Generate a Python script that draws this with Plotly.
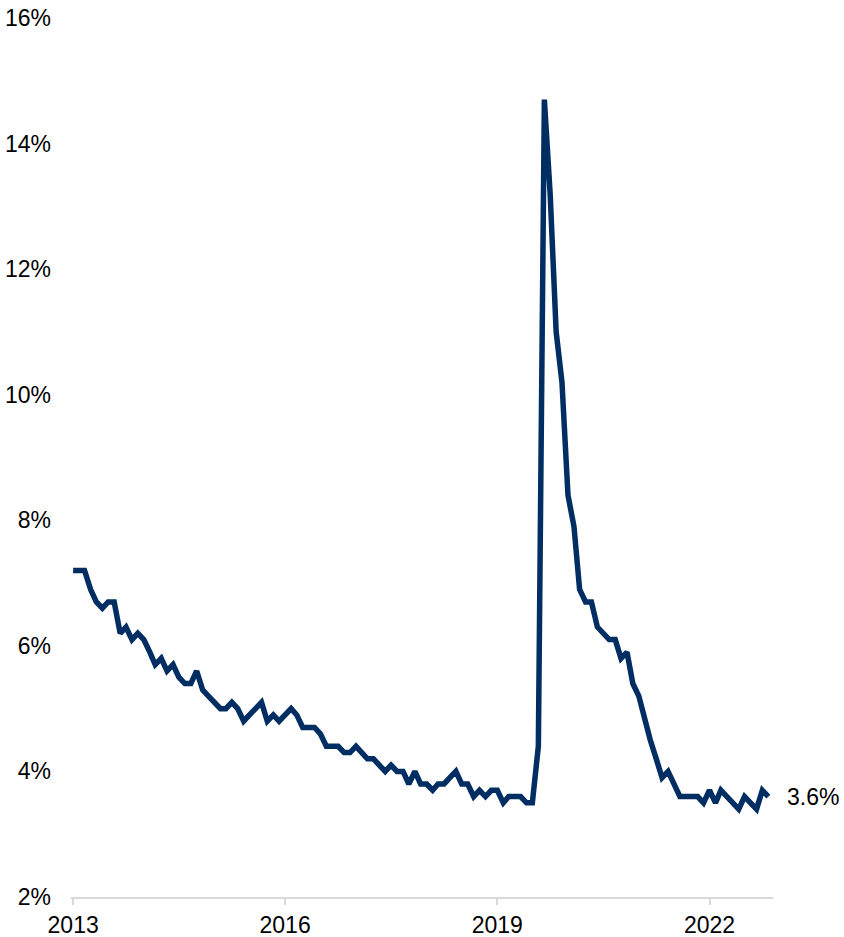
import pandas as pd
import plotly.graph_objects as go

# Monthly unemployment rate (%) as drawn
rate = [
    7.2, 7.2, 7.2, 6.9, 6.7,
    6.6, 6.7, 6.7, 6.2, 6.3, 6.1, 6.2, 6.1, 5.9, 5.7, 5.8, 5.6,
    5.7, 5.5, 5.4, 5.4, 5.6, 5.3, 5.2, 5.1, 5.0, 5.0, 5.1, 5.0,
    4.8, 4.9, 5.0, 5.1, 4.8, 4.9, 4.8, 4.9, 5.0, 4.9, 4.7, 4.7,
    4.7, 4.6, 4.4, 4.4, 4.4, 4.3, 4.3, 4.4, 4.3, 4.2, 4.2, 4.1,
    4.0, 4.1, 4.0, 4.0, 3.8, 4.0, 3.8, 3.8, 3.7, 3.8, 3.8, 3.9,
    4.0, 3.8, 3.8, 3.6, 3.7, 3.6, 3.7, 3.7, 3.5, 3.6, 3.6, 3.6,
    3.5, 3.5, 4.4, 14.7, 13.2, 11.0, 10.2, 8.4, 7.9, 6.9, 6.7, 6.7,
    6.3, 6.2, 6.1, 6.1, 5.8, 5.9, 5.4, 5.2, 4.8, 4.5, 4.2, 3.9,
    4.0, 3.8, 3.6, 3.6, 3.6, 3.6, 3.5, 3.7, 3.5, 3.7, 3.6, 3.5,
    3.4, 3.6, 3.5, 3.4, 3.7, 3.6,
]
dates = pd.date_range("2013-01-01", periods=len(rate), freq="MS")

x_tick_vals = ["2013-01-01", "2016-01-01", "2019-01-01", "2022-01-01"]
x_tick_text = ["2013", "2016", "2019", "2022"]
y_tick_vals = [2, 4, 6, 8, 10, 12, 14, 16]
y_tick_text = ["2%", "4%", "6%", "8%", "10%", "12%", "14%", "16%"]
last_label = "3.6%"

LINE = "#002D62"
FONT = dict(family="Liberation Sans, Arial, sans-serif", size=23, color="#000000")

fig = go.Figure()
fig.add_trace(go.Scatter(
    x=dates, y=rate, mode="lines",
    line=dict(color=LINE, width=5.5, shape="linear"),
    cliponaxis=False, hoverinfo="skip", showlegend=False,
))

fig.add_annotation(
    x=dates[-1], y=rate[-1], text=last_label, showarrow=False,
    xanchor="left", yanchor="middle", xshift=17, font=FONT,
)

fig.update_layout(
    width=844, height=937,
    margin=dict(l=71, r=71, t=18, b=40),
    paper_bgcolor="white", plot_bgcolor="white",
    font=FONT,
    xaxis=dict(
        type="date", automargin=False, ticklabeloverflow="allow",
        range=["2012-12-21", "2022-11-25"],
        tickvals=x_tick_vals, ticktext=x_tick_text,
        showgrid=False, zeroline=False,
        showline=True, linecolor="#d9d9d9", linewidth=2,
        ticks="outside", ticklen=6, tickwidth=2, tickcolor="#d9d9d9",
        tickfont=FONT,
    ),
    yaxis=dict(
        range=[2, 16], automargin=False, ticklabeloverflow="allow",
        tickvals=y_tick_vals, ticktext=y_tick_text,
        showgrid=False, zeroline=False, showline=False,
        ticks="", ticklabelstandoff=19,
        tickfont=FONT,
    ),
)

fig.write_html(
    "out.html",
    config={"displayModeBar": False, "staticPlot": True},
    post_script="document.body.style.margin='0';document.body.style.overflow='hidden';",
)
